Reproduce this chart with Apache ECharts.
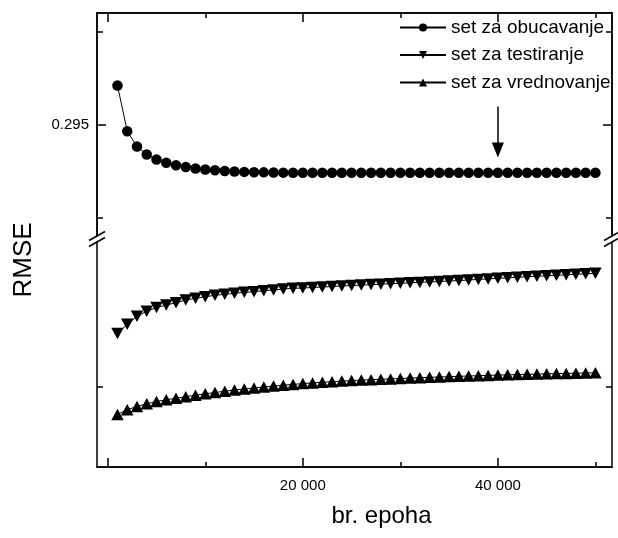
<!DOCTYPE html>
<html>
<head>
<meta charset="utf-8">
<script src="https://cdn.jsdelivr.net/npm/echarts@6/dist/echarts.min.js"></script>
<style>
html,body{margin:0;padding:0;background:#fff;}
#chart{width:618px;height:538px;}
</style>
</head>
<body>
<div id="chart"></div>
<script>
const epochs = [1000,2000,3000,4000,5000,6000,7000,8000,9000,10000,
  11000,12000,13000,14000,15000,16000,17000,18000,19000,20000,
  21000,22000,23000,24000,25000,26000,27000,28000,29000,30000,
  31000,32000,33000,34000,35000,36000,37000,38000,39000,40000,
  41000,42000,43000,44000,45000,46000,47000,48000,49000,50000];

const trainRMSE = [0.295420,0.294928,0.294763,0.294677,0.294623,0.294587,0.294561,0.294542,0.294526,0.294515,
  0.294506,0.294499,0.294494,0.294489,0.294486,0.294484,0.294482,0.294481,0.294480,0.294480,
  0.294480,0.294480,0.294480,0.294480,0.294480,0.294479,0.294479,0.294479,0.294479,0.294479,
  0.294479,0.294479,0.294479,0.294479,0.294479,0.294479,0.294479,0.294479,0.294479,0.294479,
  0.294479,0.294479,0.294479,0.294479,0.294479,0.294479,0.294479,0.294479,0.294479,0.294479];

const testRMSE = [0.300535,0.300627,0.300707,0.300757,0.300795,0.300820,0.300843,0.300870,0.300887,0.300903,
  0.300917,0.300927,0.300937,0.300947,0.300953,0.300963,0.300970,0.300980,0.300987,0.300990,
  0.300995,0.301000,0.301005,0.301010,0.301014,0.301019,0.301024,0.301028,0.301033,0.301037,
  0.301042,0.301046,0.301051,0.301055,0.301060,0.301065,0.301070,0.301076,0.301081,0.301087,
  0.301092,0.301097,0.301102,0.301107,0.301112,0.301117,0.301122,0.301127,0.301132,0.301137];

const validRMSE = [0.299725,0.299773,0.299805,0.299832,0.299855,0.299872,0.299888,0.299903,0.299918,0.299932,
  0.299945,0.299958,0.299970,0.299980,0.299990,0.300000,0.300009,0.300018,0.300026,0.300034,
  0.300041,0.300047,0.300053,0.300059,0.300064,0.300069,0.300073,0.300077,0.300081,0.300085,
  0.300089,0.300093,0.300097,0.300100,0.300104,0.300107,0.300110,0.300113,0.300116,0.300119,
  0.300122,0.300124,0.300127,0.300129,0.300132,0.300134,0.300136,0.300138,0.300140,0.300142];

const seriesNames = ['set za obucavanje','set za testiranje','set za vrednovanje'];
const xMajorTicks = [0, 20000, 40000];
const xMinorTicks = [10000, 30000, 50000];
const xTickLabels = [20000, 40000];
const yTopMajorTicks = [0.295];
const yTopMinorTicks = [0.294, 0.296];
const yBottomTicks = [0.300];
const arrowEpoch = 40000;
const arrowFrom = 0.295194, arrowTo = 0.294725;

const FONT = "'Liberation Sans', Arial, Helvetica, sans-serif";
const zip = (xs, ys) => xs.map((x, i) => [x, ys[i]]);

const X_MIN = -1100, X_MAX = 51700;
const TOP_MIN = 0.293798, TOP_MAX = 0.296202;
const BOT_MIN = 0.2992, BOT_MAX = 0.30145;

function axisLineBlack() {
  return {show: true, onZero: false, lineStyle: {color: '#000', width: 1.5}};
}
function xAx(gridIndex, position, ticks, len, opts) {
  return Object.assign({
    type: 'value', gridIndex, position, min: X_MIN, max: X_MAX,
    axisLine: axisLineBlack(),
    axisTick: {show: true, inside: true, length: len, customValues: ticks, lineStyle: {color: '#000', width: 1.5}},
    axisLabel: {show: false},
    splitLine: {show: false}
  }, opts || {});
}
function yAx(gridIndex, position, min, max, ticks, len, opts) {
  return Object.assign({
    type: 'value', gridIndex, position, min, max,
    axisLine: axisLineBlack(),
    axisTick: {show: true, inside: true, length: len, customValues: ticks, lineStyle: {color: '#000', width: 1.5}},
    axisLabel: {show: false},
    splitLine: {show: false}
  }, opts || {});
}

const chart = echarts.init(document.getElementById('chart'), null, {renderer: 'canvas'});
chart.setOption({
  animation: false,
  backgroundColor: '#fff',
  textStyle: {fontFamily: FONT, color: '#000'},
  grid: [
    {left: 97, width: 515, top: 13, height: 223},
    {left: 97, width: 515, top: 242, height: 225}
  ],
  xAxis: [
    xAx(0, 'top', xMajorTicks, 9),
    xAx(0, 'top', xMinorTicks, 5),
    xAx(1, 'bottom', xMajorTicks, 9, {
      axisLabel: {show: true, customValues: xTickLabels, margin: 11, fontSize: 15, color: '#000', fontFamily: FONT,
        formatter: v => String(v).replace(/\B(?=(\d{3})+(?!\d))/g, ' ')},
      name: 'br. epoha', nameLocation: 'middle', nameGap: 37,
      nameTextStyle: {fontSize: 24, color: '#000', fontFamily: FONT, padding: [0, 0, 0, 54]}
    }),
    xAx(1, 'bottom', xMinorTicks, 5)
  ],
  yAxis: [
    yAx(0, 'left', TOP_MIN, TOP_MAX, yTopMajorTicks, 9, {
      axisLabel: {show: true, customValues: yTopMajorTicks, margin: 8, fontSize: 15, color: '#000', fontFamily: FONT,
        formatter: v => v.toFixed(3)}
    }),
    yAx(0, 'left', TOP_MIN, TOP_MAX, yTopMinorTicks, 6),
    yAx(0, 'right', TOP_MIN, TOP_MAX, yTopMajorTicks, 9),
    yAx(0, 'right', TOP_MIN, TOP_MAX, yTopMinorTicks, 6),
    yAx(1, 'left', BOT_MIN, BOT_MAX, yBottomTicks, 6),
    yAx(1, 'right', BOT_MIN, BOT_MAX, yBottomTicks, 6)
  ],
  legend: {
    orient: 'vertical', left: 399, top: 18, padding: 0, itemWidth: 46, itemHeight: 10, itemGap: 8.5,
    data: seriesNames,
    textStyle: {fontSize: 19, color: '#000', fontFamily: FONT}
  },
  graphic: [
    {type: 'text', x: 24, y: 260, rotation: Math.PI / 2,
      style: {text: 'RMSE', fontSize: 26, fontFamily: FONT, fill: '#000', align: 'center', verticalAlign: 'middle'}},
    {type: 'line', shape: {x1: 89, y1: 240.5, x2: 105, y2: 231.5}, style: {stroke: '#000', lineWidth: 1.5}},
    {type: 'line', shape: {x1: 89, y1: 246.5, x2: 105, y2: 237.5}, style: {stroke: '#000', lineWidth: 1.5}},
    {type: 'line', shape: {x1: 604, y1: 240.5, x2: 620, y2: 231.5}, style: {stroke: '#000', lineWidth: 1.5}},
    {type: 'line', shape: {x1: 604, y1: 246.5, x2: 620, y2: 237.5}, style: {stroke: '#000', lineWidth: 1.5}}
  ],
  series: [
    {
      name: seriesNames[0], type: 'line', xAxisIndex: 0, yAxisIndex: 0,
      data: zip(epochs, trainRMSE), symbol: 'circle', symbolSize: 10.5,
      itemStyle: {color: '#000'}, lineStyle: {color: '#000', width: 1},
      markLine: {
        silent: true, symbol: ['none', 'triangle'], symbolSize: [12, 15],
        label: {show: false},
        lineStyle: {color: '#000', width: 1.5, type: 'solid'},
        data: [[{coord: [arrowEpoch, arrowFrom]}, {coord: [arrowEpoch, arrowTo]}]]
      }
    },
    {
      name: seriesNames[1], type: 'line', xAxisIndex: 2, yAxisIndex: 4,
      data: zip(epochs, testRMSE), symbol: 'triangle', symbolRotate: 180, symbolSize: [12.5, 11.5],
      itemStyle: {color: '#000'}, lineStyle: {color: '#000', width: 1}
    },
    {
      name: seriesNames[2], type: 'line', xAxisIndex: 2, yAxisIndex: 4,
      data: zip(epochs, validRMSE), symbol: 'triangle', symbolSize: [12.5, 11.5],
      itemStyle: {color: '#000'}, lineStyle: {color: '#000', width: 1}
    }
  ]
});
</script>
</body>
</html>
